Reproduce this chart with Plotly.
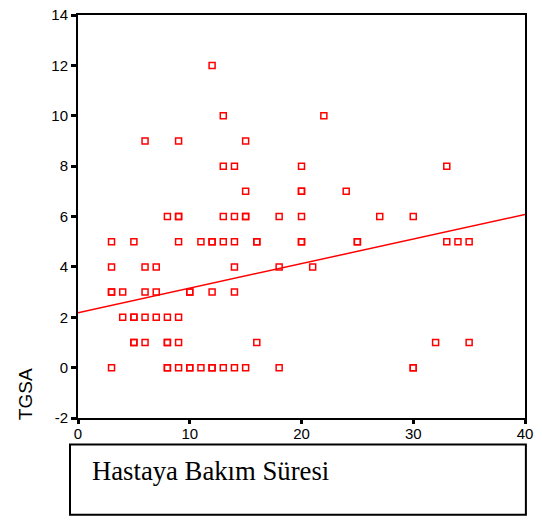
import plotly.graph_objects as go

# Data
x_vals = [12, 13, 22, 6, 9, 15,
          13, 14, 20, 33,
          15, 20, 20, 24,
          8, 9, 9, 13, 14, 15, 15, 18, 20, 27, 30,
          3, 5, 9, 11, 12, 12, 13, 14, 16, 16, 20, 20, 25, 25, 33, 34, 35,
          3, 6, 7, 14, 18, 21,
          3, 3, 4, 6, 7, 10, 10, 12, 14,
          4, 5, 5, 6, 7, 8, 9,
          5, 5, 6, 8, 8, 9, 16, 32, 35,
          3, 8, 8, 9, 10, 10, 11, 12, 12, 13, 14, 15, 18, 30, 30]
y_vals = [12, 10, 10, 9, 9, 9,
          8, 8, 8, 8,
          7, 7, 7, 7,
          6, 6, 6, 6, 6, 6, 6, 6, 6, 6, 6,
          5, 5, 5, 5, 5, 5, 5, 5, 5, 5, 5, 5, 5, 5, 5, 5, 5,
          4, 4, 4, 4, 4, 4,
          3, 3, 3, 3, 3, 3, 3, 3, 3,
          2, 2, 2, 2, 2, 2, 2,
          1, 1, 1, 1, 1, 1, 1, 1, 1,
          0, 0, 0, 0, 0, 0, 0, 0, 0, 0, 0, 0, 0, 0, 0]

fit_x = [0, 40]
fit_y = [2.18, 6.08]

x_ticks = [0, 10, 20, 30, 40]
y_ticks = [-2, 0, 2, 4, 6, 8, 10, 12, 14]

x_title = "Hastaya Bakım Süresi"
y_title = "TGSA"

fig = go.Figure()
fig.add_trace(go.Scatter(
    x=fit_x, y=fit_y, mode="lines",
    line=dict(color="#ff0000", width=1.5),
    hoverinfo="skip", showlegend=False,
))
fig.add_trace(go.Scatter(
    x=x_vals, y=y_vals, mode="markers",
    marker=dict(symbol="square-open", size=6, color="#ff0000",
                line=dict(color="#ff0000", width=1.5)),
    showlegend=False,
))

axis_font = dict(family="Liberation Sans, Arial, sans-serif", size=15, color="#000000")

fig.update_xaxes(
    range=[0, 40], tickvals=x_ticks, ticktext=[str(v) for v in x_ticks],
    showgrid=False, zeroline=False,
    showline=True, linecolor="#000000", linewidth=2, mirror=True,
    ticks="outside", ticklen=4, tickwidth=3, tickcolor="#000000",
    tickfont=axis_font, ticklabeloverflow="allow", ticklabelstandoff=-3,
)
fig.update_yaxes(
    range=[-2, 14], tickvals=y_ticks, ticktext=[str(v) for v in y_ticks],
    showgrid=False, zeroline=False,
    showline=True, linecolor="#000000", linewidth=2, mirror=True,
    ticks="outside", ticklen=5, tickwidth=3, tickcolor="#000000",
    tickfont=axis_font, ticklabeloverflow="allow",
)

fig.update_layout(
    width=542, height=524,
    margin=dict(l=78, r=17, t=6, b=106),
    paper_bgcolor="white", plot_bgcolor="white",
    shapes=[dict(
        type="rect", xref="paper", yref="paper",
        x0=-0.0179, x1=1.002, y0=-0.0655, y1=-0.2403,
        line=dict(color="#000000", width=2), fillcolor="rgba(0,0,0,0)",
    )],
    annotations=[
        dict(text=x_title, xref="paper", yref="paper", x=0.0268, y=-0.131,
             xanchor="left", yanchor="middle", showarrow=False,
             font=dict(family="Liberation Serif, Times New Roman, serif", size=26.7, color="#000000")),
        dict(text=y_title, xref="paper", yref="paper", x=-0.1174, y=0.058,
             xanchor="center", yanchor="middle", showarrow=False, textangle=-90,
             font=dict(family="Liberation Sans, Arial, sans-serif", size=19, color="#000000")),
    ],
)

fig.write_html("out.html", config={"displayModeBar": False},
               post_script="document.body.style.margin='0';")
